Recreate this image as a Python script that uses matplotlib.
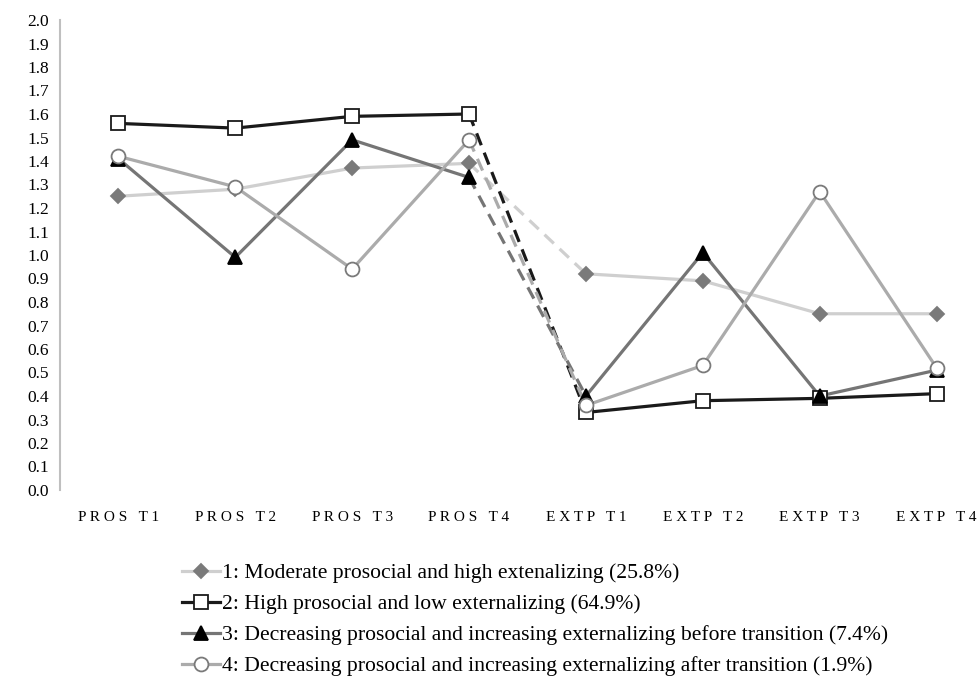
import matplotlib.pyplot as plt

plt.rcParams['font.family'] = ['Liberation Serif', 'DejaVu Serif']

categories = ['PROS T1', 'PROS T2', 'PROS T3', 'PROS T4',
              'EXTP T1', 'EXTP T2', 'EXTP T3', 'EXTP T4']

class1 = [1.25, 1.28, 1.37, 1.39, 0.92, 0.89, 0.75, 0.75]
class2 = [1.56, 1.54, 1.59, 1.60, 0.33, 0.38, 0.39, 0.41]
class3 = [1.41, 0.99, 1.49, 1.33, 0.40, 1.01, 0.40, 0.51]
class4 = [1.42, 1.29, 0.94, 1.49, 0.36, 0.53, 1.27, 0.52]

labels = ['1: Moderate prosocial and high extenalizing (25.8%)',
          '2: High prosocial and low externalizing (64.9%)',
          '3: Decreasing prosocial and increasing externalizing before transition (7.4%)',
          '4: Decreasing prosocial and increasing externalizing after transition (1.9%)']

# line color, marker, marker face, marker edge, marker size
styles = [
    ('#cfcfcf', 'D', '#7a7a7a', '#7a7a7a', 7),
    ('#1a1a1a', 's', 'white', '#1a1a1a', 10),
    ('#757575', '^', 'black', 'black', 10),
    ('#ababab', 'o', 'white', '#7a7a7a', 10),
]

fig = plt.figure(figsize=(9.78, 6.78), dpi=100)
ax = fig.add_axes([60 / 978, 1 - 490 / 678, 935 / 978, 470 / 678])

x = list(range(len(categories)))
handles = []
for vals, lab, (lc, mk, mfc, mec, ms) in zip([class1, class2, class3, class4], labels, styles):
    # solid within prosocial, dashed across transition, solid within externalizing
    ax.plot(x[:4], vals[:4], color=lc, lw=2.3, zorder=2)
    ax.plot(x[3:5], vals[3:5], color=lc, lw=2.3, ls=(0, (4, 2.5)), zorder=2)
    ax.plot(x[4:], vals[4:], color=lc, lw=2.3, zorder=2)
    ax.plot(x, vals, ls='none', marker=mk, ms=ms, mfc=mfc, mec=mec, mew=1.3, zorder=3)
    h, = ax.plot([], [], color=lc, lw=2.3, marker=mk, ms=ms, mfc=mfc, mec=mec, mew=1.3)
    handles.append(h)

ax.set_xlim(-0.5, 7.5)
ax.set_ylim(0, 2.0)
ax.set_yticks([i / 10 for i in range(21)])
ax.set_yticklabels([f'{i / 10:.1f}' for i in range(21)], fontsize=12.5)
ax.set_xticks(x)
ax.set_xticklabels([' '.join(c) for c in categories], fontsize=11)
ax.tick_params(axis='both', length=0)
ax.tick_params(axis='x', pad=15)
ax.tick_params(axis='y', pad=8)

for s in ['top', 'right', 'bottom']:
    ax.spines[s].set_visible(False)
ax.spines['left'].set_color('#bfbfbf')
ax.spines['left'].set_linewidth(1.5)

fig.legend(handles=handles, labels=labels, loc='upper left',
           bbox_to_anchor=(182 / 978, 1 - 563 / 678), frameon=False,
           fontsize=15.6, handlelength=1.75, handletextpad=0.1,
           labelspacing=0.5, borderaxespad=0, borderpad=0)

fig.savefig('out.png', dpi=100)
